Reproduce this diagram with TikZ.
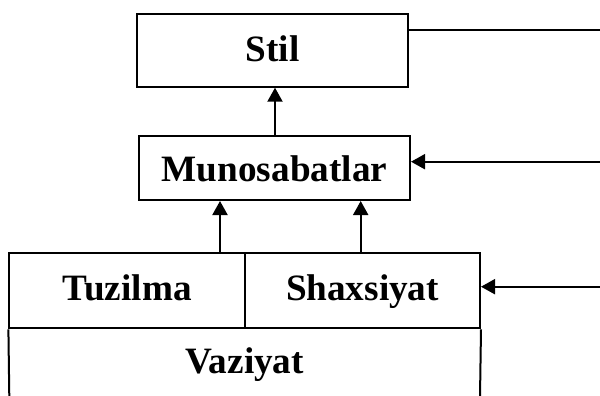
\documentclass[tikz,border=0pt]{standalone}
\usepackage{fontspec}
\setmainfont{Liberation Serif}
\usetikzlibrary{arrows.meta}
\tikzset{
  boxnode/.style={draw, line width=1pt, inner sep=0pt, text depth=0pt, font=\fontsize{18.6}{22}\selectfont\bfseries},
  textnode/.style={inner sep=0pt, font=\fontsize{18.6}{22}\selectfont\bfseries},
  conn/.style={line width=1pt},
  arr/.style={conn, -{Triangle[length=7pt,width=7.5pt]}}
}
\begin{document}
\begin{tikzpicture}[x=0.5pt,y=-0.5pt]
\useasboundingbox (0,0) rectangle (600,396);
\node[boxnode, text height=11.2pt, minimum width=135.5pt, minimum height=36.2pt] (stil) at (272.5,50.5) {Stil};
\node[boxnode, text height=13.7pt, minimum width=135.5pt, minimum height=32pt] (mun) at (274.5,168) {Munosabatlar};
\node[boxnode, text height=9.2pt, minimum width=117.8pt, minimum height=37.5pt] (tuz) at (127.2,290.8) {Tuzilma};
\node[boxnode, text height=9.2pt, minimum width=117.5pt, minimum height=37.5pt] (sha) at (362.5,290.8) {Shaxsiyat};
\node[textnode, anchor=base] (vaz) at (244.7,373.3) {Vaziyat};
\coordinate (bl) at (9.3,397);
\coordinate (br) at (480,397);
\draw[conn] (tuz.south west) -- (bl);
\draw[conn] (sha.south east) -- (br);
\coordinate (a1) at (220,0);
\coordinate (a2) at (360.7,0);
\coordinate (a3) at (275,0);
\draw[arr] (tuz.north -| a1) -- (mun.south -| a1);
\draw[arr] (sha.north -| a2) -- (mun.south -| a2);
\draw[arr] (mun.north -| a3) -- (stil.south -| a3);
\coordinate (r1) at (600,30);
\coordinate (r2) at (600,161.7);
\coordinate (r3) at (600,286.7);
\draw[conn] (stil.east |- r1) -- (r1);
\draw[arr] (r2) -- (mun.east |- r2);
\draw[arr] (r3) -- (sha.east |- r3);
\end{tikzpicture}
\end{document}
